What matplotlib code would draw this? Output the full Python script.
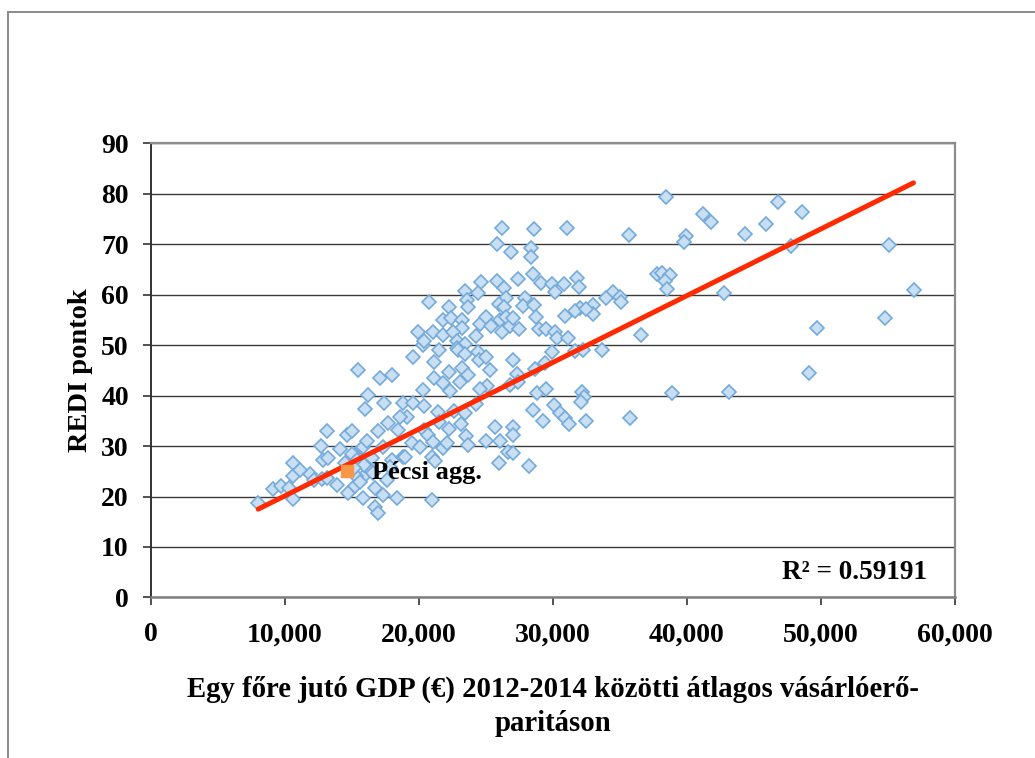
import numpy as np
import matplotlib.pyplot as plt
from matplotlib.lines import Line2D
from matplotlib.ticker import FuncFormatter

# GDP per capita (PPP, EUR, 2012-2014 avg) vs REDI points, regions
gdp = [8010, 9080, 9680, 10620, 10620, 10620, 10320, 11870, 12160, 12740,
       12690, 13110, 12870, 13230, 13160, 13860, 14100, 14650, 14980, 14730,
       15220, 15850, 16720, 16970, 15970, 16220, 17390, 17090, 18000, 15470,
       16970, 17340, 15850, 16100, 15600, 16100, 16470, 16340, 15850, 16720,
       17590, 17960, 17840, 18830, 18460, 17710, 18830, 19080, 17340, 18330,
       11100, 14500, 15200, 15000, 15400, 15900, 16600, 15300, 15600, 15150,
       19520, 20270, 19580, 20270, 21140, 21140, 18580, 20940,
       26210, 28600, 25790, 26830, 28330, 28330, 28520, 27400, 25790, 24620,
       23430, 23560, 23680, 24380, 26340, 26490, 25940, 26340, 27900, 27730,
       28600, 29100, 29890, 30140, 20720, 22210, 21790, 22360, 23230, 23190,
       19950, 21020, 20370, 21760, 22560, 22860, 23430, 24250, 24540, 24990,
       25410, 26040, 26490, 26160, 26780, 27480, 26980, 28720, 28980, 29480,
       30140, 30270, 22860, 21520, 22940, 23430, 24430, 24500, 25000, 27040,
       28650, 29400, 29890, 22260, 23190, 23680, 25290, 27330,
       21820, 22310, 23060, 20370, 21440, 22610, 23430, 24250, 25090, 24540,
       26780, 27400, 21520, 20370, 20690, 19450, 20070, 21070, 21760, 22060,
       22260, 23130, 23500, 23680, 25000, 25670, 26040, 27040, 26980, 26650,
       27040, 25980, 28220, 28770, 28520, 29480, 29280, 30070, 30510, 18950,
       20950, 21190,
       38460, 31060, 35640, 41210, 41800, 39960, 39760, 44340, 45930, 46800,
       48600, 47760, 55060, 56930, 42730, 37760, 38120, 38760, 38390, 38510,
       36580, 33640, 31640, 32210, 34510, 35010, 35060, 33940, 33010, 33010,
       32010, 31640, 30880, 32460, 31810, 31960, 30810, 49710, 54800, 49130,
       32160, 32300, 32060, 38860, 43130, 30880, 31210, 32460, 35760, 31140]

redi = [18.8, 21.5, 22.0, 26.7, 24.1, 19.5, 21.6, 24.5, 23.3, 23.5,
        30.0, 32.9, 27.2, 27.6, 23.6, 22.3, 29.4, 32.2, 32.9, 20.6,
        22.0, 19.7, 17.9, 16.7, 37.3, 40.1, 38.5, 43.4, 44.1, 45.1,
        32.9, 29.9, 29.9, 31.0, 27.6, 27.0, 27.6, 25.3, 23.9, 21.6,
        23.3, 27.2, 25.9, 27.9, 33.2, 34.5, 38.5, 35.8, 20.3, 19.7,
        25.3, 26.7, 28.2, 28.5, 27.3, 26.2, 24.6, 24.0, 22.8, 25.7,
        38.5, 41.2, 47.7, 50.0, 46.7, 43.4, 35.8, 19.3,
        73.3, 73.0, 70.0, 68.4, 69.2, 67.4, 64.1, 63.1, 62.8, 62.5,
        60.7, 58.9, 57.5, 60.4, 61.3, 59.3, 58.2, 57.5, 59.3, 57.8,
        58.0, 62.3, 62.1, 60.6, 58.6, 57.6, 54.9, 55.3, 55.0, 53.3,
        52.7, 52.7, 50.9, 52.0, 52.7, 50.9, 50.2, 51.8, 54.2, 55.6,
        53.8, 55.0, 55.5, 52.7, 53.8, 53.1, 55.3, 55.5, 53.1, 53.1,
        52.7, 51.4, 49.4, 49.0, 49.0, 48.2, 48.7, 47.1, 47.6, 47.1,
        45.2, 46.5, 48.7, 44.7, 45.4, 44.1, 45.1, 44.3,
        42.4, 41.0, 42.6, 37.9, 36.8, 37.0, 36.6, 38.3, 41.9, 41.4,
        42.1, 42.6, 34.8, 33.2, 32.2, 30.6, 29.9, 30.9, 29.6, 30.6,
        33.3, 34.3, 31.9, 30.2, 31.0, 33.7, 31.0, 33.8, 32.2, 28.9,
        28.6, 26.7, 26.1, 40.5, 37.2, 41.4, 35.0, 38.1, 36.6, 27.9,
        27.9, 27.1,
        79.4, 73.3, 71.9, 75.9, 74.4, 71.6, 70.4, 72.1, 74.1, 78.4,
        76.4, 69.6, 69.9, 60.9, 60.4, 64.1, 64.3, 63.9, 62.8, 61.1,
        52.1, 49.0, 48.9, 49.0, 60.6, 59.6, 58.5, 59.4, 58.0, 56.2,
        57.4, 56.8, 55.8, 57.2, 63.3, 61.6, 62.1, 53.4, 55.3, 44.4,
        40.8, 39.7, 38.8, 40.6, 40.8, 35.5, 34.3, 34.9, 35.5, 51.4]

# highlighted region
pecs_gdp = 14650
pecs_redi = 25.0

# linear trend
trend_slope = 0.001322
trend_icept = 6.93
trend_x = np.array([8000, 56900])
r2_text = 'R² = 0.59191'

plt.rcParams['font.family'] = ['Liberation Serif', 'DejaVu Serif']
plt.rcParams['font.weight'] = 'bold'

fig = plt.figure(figsize=(10.35, 7.58), dpi=100)
ax = fig.add_axes([0.1459, 0.2118, 0.7768, 0.5992])

ax.plot(gdp, redi, linestyle='none', marker='D', ms=7.1,
        mfc='#c8def2', mec='#74aadb', mew=1.2, zorder=3)
ax.plot(trend_x, trend_slope*trend_x + trend_icept, color='#ff2a00',
        lw=3.6, solid_capstyle='round', zorder=4)
ax.plot([pecs_gdp], [pecs_redi], linestyle='none', marker='s', ms=8.8,
        mfc='#f79646', mec='#f79646', zorder=5)
ax.text(pecs_gdp + 1850, pecs_redi - 0.3, 'Pécsi agg.', fontsize=19,
        fontweight='bold', va='center', ha='left', zorder=6)
ax.text(0.965, 0.055, r2_text, transform=ax.transAxes, fontsize=19.5,
        fontweight='bold', ha='right', va='center')

ax.set_xlim(0, 60000)
ax.set_ylim(0, 90)
ax.set_xticks(np.arange(0, 60001, 10000))
ax.set_yticks(np.arange(0, 91, 10))
ax.xaxis.set_major_formatter(FuncFormatter(lambda v, p: f'{int(v):,}'))
ax.yaxis.grid(True, color='#3a3a3a', lw=1.0)
ax.set_axisbelow(True)

ax.tick_params(axis='both', direction='out', length=6, width=1.2,
               labelsize=20, color='#333333')
ax.tick_params(axis='y', pad=10)
ax.tick_params(axis='x', pad=12)
ax.tick_params(top=False, right=False)
for lab in ax.get_xticklabels() + ax.get_yticklabels():
    lab.set_fontweight('bold')

ax.spines['left'].set_color('#333333')
ax.spines['left'].set_linewidth(1.4)
ax.spines['bottom'].set_color('#808080')
ax.spines['bottom'].set_linewidth(1.8)
ax.spines['top'].set_color('#8c8c8c')
ax.spines['top'].set_linewidth(1.6)
ax.spines['right'].set_color('#8c8c8c')
ax.spines['right'].set_linewidth(1.6)

fig.text(0.0773, 0.512, 'REDI pontok', rotation=90, fontsize=20.5,
         fontweight='bold', ha='center', va='center')
fig.text(0.534, 0.068, 'Egy főre jutó GDP (€) 2012-2014 közötti átlagos vásárlóerő-\nparitáson',
         fontsize=20.7, fontweight='bold', ha='center', va='center',
         linespacing=1.3)

# page frame (left and top edge)
fig.add_artist(Line2D([0.0077, 0.0077], [0.0, 0.984], color='#8a8a8a', lw=1.4))
fig.add_artist(Line2D([0.0077, 1.0], [0.984, 0.984], color='#8a8a8a', lw=1.4))

fig.savefig('out.png', dpi=100, facecolor='white')
